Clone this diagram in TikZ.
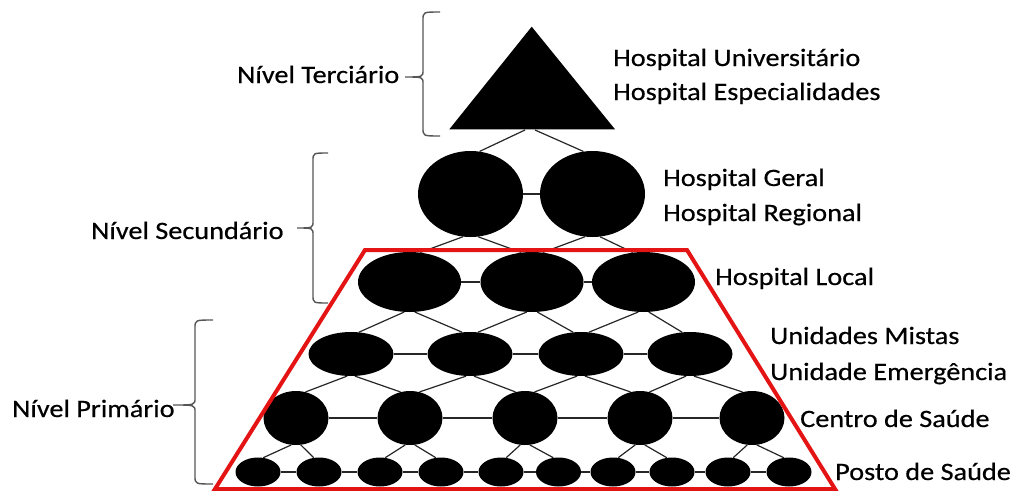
\documentclass[tikz,border=0pt]{standalone}
\usepackage{fontspec}
\setmainfont{Carlito}[FakeStretch=1.13,FakeBold=0.5]
\usetikzlibrary{shapes.geometric}
\definecolor{redline}{RGB}{228,20,20}
\definecolor{bracegray}{RGB}{85,85,85}
\newcommand\levelbrace[6]{%
  \draw[bracestyle] (#2,#4) .. controls (#1,#4) .. (#1,#4+8) -- (#1,#5-7)
    .. controls (#1,#5) .. (#3,#5) .. controls (#1,#5) .. (#1,#5+7)
    -- (#1,#6-8) .. controls (#1,#6) .. (#2,#6);}
\begin{document}
\begin{tikzpicture}[x=1pt,y=-1pt,
  blob/.style={ellipse, fill=black, draw=none, inner sep=0pt},
  secE/.style={blob, minimum width=105pt, minimum height=86pt},
  locE/.style={blob, minimum width=103pt, minimum height=60pt},
  uniE/.style={blob, minimum width=85pt, minimum height=44pt},
  cenE/.style={blob, minimum width=65pt, minimum height=54pt},
  posE/.style={blob, minimum width=45pt, minimum height=29pt},
  conn/.style={line width=1.2pt, draw=black!85},
  bracestyle/.style={line width=1.4pt, draw=bracegray},
  lbl/.style={anchor=base west, inner sep=0pt, font=\fontsize{25}{30}\selectfont},
  frame/.style={line width=4pt, draw=redline, line join=miter}]
\useasboundingbox (0,0) rectangle (1012,490);
% triangle
\fill (531.7,26.7) -- (615,129.3) -- (449.3,129.3) -- cycle;
\coordinate (tbl) at (525,130);
\coordinate (tbr) at (535,130);
% secondary
\node[secE] (s1) at (470.5,194) {};
\node[secE] (s2) at (592.5,194) {};
% local
\node[locE] (l1) at (409.5,282) {};
\node[locE] (l2) at (532,282) {};
\node[locE] (l3) at (643.5,282) {};
% unidades
\node[uniE] (u1) at (351,354) {};
\node[uniE] (u2) at (470,354) {};
\node[uniE] (u3) at (581,354) {};
\node[uniE] (u4) at (690,354) {};
% centros
\node[cenE] (c1) at (296,418) {};
\node[cenE] (c2) at (410,418) {};
\node[cenE] (c3) at (525,418) {};
\node[cenE] (c4) at (640,418) {};
\node[cenE] (c5) at (752,418) {};
% postos
\node[posE] (p1) at (258,472) {};
\node[posE] (p2) at (319,472) {};
\node[posE] (p3) at (380,472) {};
\node[posE] (p4) at (441,472) {};
\node[posE] (p5) at (501,472) {};
\node[posE] (p6) at (558.5,472) {};
\node[posE] (p7) at (613,472) {};
\node[posE] (p8) at (672,472) {};
\node[posE] (p9) at (728,472) {};
\node[posE] (p10) at (789,472) {};
% connectors
\draw[conn] (tbl) -- (s1.78);
\draw[conn] (tbr) -- (s2.102);
\draw[conn] (s1.east) -- (s2.west);
\foreach \a/\b in {l1/l2,l2/l3,u1/u2,u2/u3,u3/u4,c1/c2,c2/c3,c3/c4,c4/c5,
  p1/p2,p2/p3,p3/p4,p4/p5,p5/p6,p6/p7,p7/p8,p8/p9,p9/p10}
  \draw[conn] (\a.east) -- (\b.west);
\foreach \p/\l/\r in {s1/l1/l2,s2/l2/l3,l1/u1/u2,l2/u2/u3,l3/u3/u4,
  u1/c1/c2,u2/c2/c3,u3/c3/c4,u4/c4/c5,
  c1/p1/p2,c2/p3/p4,c3/p5/p6,c4/p7/p8,c5/p9/p10}{
  \draw[conn] (\p.260) -- (\l.70);
  \draw[conn] (\p.280) -- (\r.110);}
% red frame
\draw[frame] (365,250) -- (687,250) -- (835,489) -- (215,489) -- cycle;
% braces
\levelbrace{423}{440}{405}{12}{77}{136}
\levelbrace{313}{328}{297}{153}{228}{303}
\levelbrace{195}{213}{173}{320}{405}{484}
% left labels
\node[lbl] (nt) at (237,83) {Nível Terciário};
\node[lbl] (ns) at (91,239) {Nível Secundário};
\node[lbl] (np) at (12,417) {Nível Primário};
% right labels
\node[lbl] (hu) at (613,66) {Hospital Universitário};
\node[lbl] (he) at (613,100) {Hospital Especialidades};
\node[lbl] (hg) at (663,186) {Hospital Geral};
\node[lbl] (hr) at (663,221) {Hospital Regional};
\node[lbl] (hl) at (715,285) {Hospital Local};
\node[lbl] (um) at (770,344) {Unidades Mistas};
\node[lbl] (ue) at (770,380) {Unidade Emergência};
\node[lbl] (cs) at (800,427) {Centro de Saúde};
\node[lbl] (ps) at (835,480) {Posto de Saúde};
\end{tikzpicture}
\end{document}
